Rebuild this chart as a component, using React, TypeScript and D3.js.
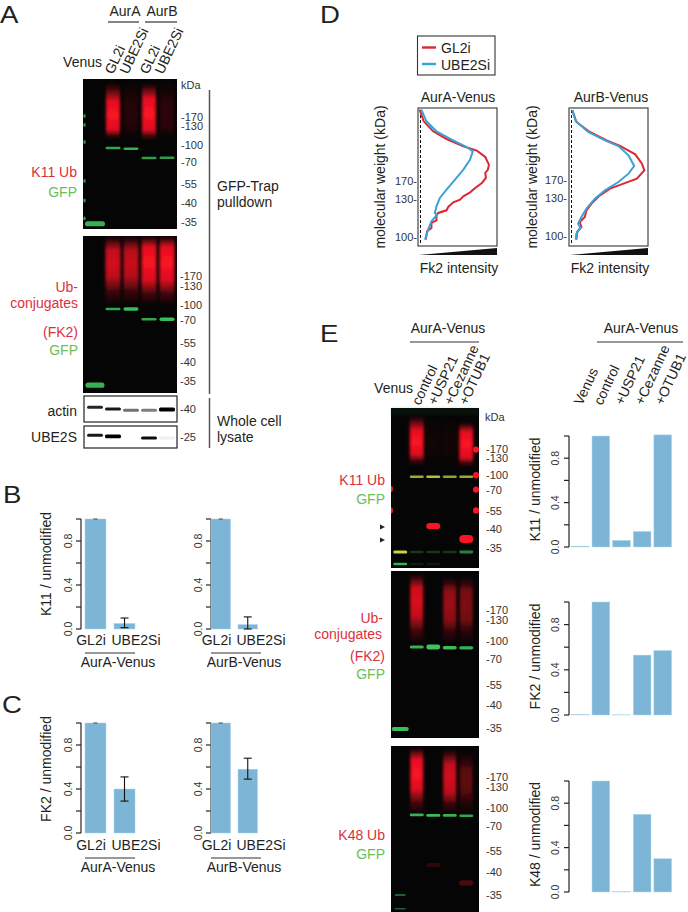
import React from "react";
import * as d3 from "d3";

// ---------- data ----------
const kdaLabels = ["-170", "-130", "-100", "-70", "-55", "-40", "-35"];
const sgLabels = ["GL2i", "UBE2Si"];
const dubLabels = ["control", "+USP21", "+Cezanne", "+OTUB1"];
const dubBarLabels = ["Venus", "control", "+USP21", "+Cezanne", "+OTUB1"];

const k11AurA = [1, 0.05]; const k11AurAErr = [0.012, 0.1];
const k11AurB = [1, 0.04]; const k11AurBErr = [0.0, 0.11];
const fk2AurA = [1, 0.4]; const fk2AurAErr = [0.29, 0.51];
const fk2AurB = [1, 0.58]; const fk2AurBErr = [0.49, 0.68];

const k11Dub = [0.008, 1, 0.06, 0.14, 1.01];
const fk2Dub = [0.005, 1, 0.002, 0.53, 0.57];
const k48Dub = [0, 1, 0.003, 0.7, 0.3];

type P = [number, number];
const aRed: P[] = [[5,5],[17,40],[45,70],[85,93],[135,115],[175,128],[200,147],[211,170],[208,185],[200,195],[202,210],[190,225],[170,240],[155,253],[135,265],[125,275],[105,283],[90,297],[85,307],[60,315],[55,322],[55,337],[40,345],[40,360],[27,370],[23,395]];
const aBlue: P[] = [[10,5],[25,40],[55,70],[100,95],[145,117],[163,130],[155,155],[135,185],[110,215],[85,245],[65,270],[55,295],[50,315],[57,320],[40,340],[30,365],[21,395]];
const bRed: P[] = [[10,7],[22,42],[62,72],[112,97],[152,114],[197,139],[217,167],[224,187],[202,212],[162,227],[122,242],[92,262],[67,287],[52,307],[47,327],[32,342],[37,357],[24,372],[22,395]];
const bBlue: P[] = [[10,7],[20,39],[57,72],[107,97],[147,114],[177,142],[194,174],[177,197],[147,222],[107,247],[77,272],[52,302],[37,327],[27,347],[34,359],[22,377],[20,395]];

// blot marks: lane index, migration (% of gel height), strength, thickness factor
type Band = [number, number, number, number?];
// smear: lane, top, peak start, peak end, bottom, strength
type Smear = [number, number, number, number, number, number];

const a1Green: Band[] = [[1,46,.8],[2,46.5,.85],[3,52.7,.75],[4,52.5,.75],[0,96.5,.85,2]];
const a1Smear: Smear[] = [[1,3,15,34,40,1],[2,3,15,32,40,.14],[3,3,13,34,41,1],[4,3,15,32,40,.17]];
const a1Ladder = [24.7,30.7,42,68,81,93];
const a2Green: Band[] = [[1,46.5,.8],[2,46.5,.9,1.3],[3,53,.8],[4,53,.9,1.3],[0,95,.85,2]];
const a2Smear: Smear[] = [[1,0,9,26,44,.85],[2,0,9,26,44,.8],[3,0,7,28,44,1],[4,0,7,28,44,1]];
const actinBands: Band[] = [[0,43,.85],[1,50,.9],[2,55,.55],[3,55,.5],[4,52,1,1.3]];
const ube2sBands: Band[] = [[0,42,.9],[1,47,1,1.2],[3,55,.95],[4,55,.06]];

const e1Yellow: Band[] = [[1,43,.8],[2,43,.9],[3,43,.75],[4,43,.8],[0,90,1,1.3]];
const e1Green: Band[] = [[0,97.5,.85,1.1],[1,90,.25],[2,90,.25],[3,90,.25],[4,90,.6,1.2],[1,97.5,.12],[2,97.5,.1]];
const e1RedBands: Band[] = [[2,73.75,1,2.6],[4,81.9,1,3.4]];
const e1Smear: Smear[] = [[1,5,14,29,36,1],[2,8,16,28,36,.05],[3,8,16,28,36,.06],[4,9,15,31,37,1]];
const e1RedLadder = [26,42,51,64];
const e1RedLadderLeft = [50.6,64];
const e2Green: Band[] = [[1,45.5,.85,1.3],[2,45.5,.95,2],[3,46,.9,1.5],[4,46,.85,1.3],[0,94.6,.9,1.6]];
const e2Smear: Smear[] = [[1,2,10,27,44,.88],[3,4,12,29,44,.62],[4,4,12,29,44,.5]];
const e3Green: Band[] = [[1,41.5,.85],[2,41.8,.9],[3,41.8,.85],[4,42,.8],[0,89.8,.6,.6],[0,98,.45,.6]];
const e3Smear: Smear[] = [[1,1,8,26,41,1],[3,2,11,28,41,.85],[4,4,14,28,42,.36]];
const e3Faint: Band[] = [[2,71.7,.17,1.6],[4,82.5,.28,2]];

const RED = "#f91222";
const GREEN = "#3fd060";
const YELLOW = "#c4d63c";
const TXT = "#231f20";
const LRED = "#dc2f3c";
const LGREEN = "#6cbe55";
const BAR = "#7cb5d6";
const FONT = "Liberation Sans, Arial, sans-serif";

// ---------- pieces ----------
function Blot({ id, x, y, w, h, lanes, bandW, bandH, lane0W, green = [], yellow = [], redBands = [], smears = [], smearW, ladderGreen = [], ladderRed = [], ladderRedLeft = [], tint }: any) {
  const sx = d3.scaleBand<number>().domain([0, 1, 2, 3, 4]).range(lanes);
  const sy = d3.scaleLinear().domain([0, 100]).range([y, y + h]);
  const cx = (l: number) => (sx(l) as number) + sx.bandwidth() / 2;
  const drawBand = (b: Band, c: string, i: number) => {
    const t = bandH * (b[3] ?? 1);
    const bw = b[0] === 0 && lane0W ? lane0W : bandW;
    return <rect key={c + i} x={cx(b[0]) - bw / 2} y={sy(b[1]) - t / 2} width={bw} height={t} rx={t / 2} fill={c} opacity={b[2]} filter="url(#b06)" />;
  };
  return (
    <g>
      <clipPath id={id}><rect x={x} y={y} width={w} height={h} /></clipPath>
      <rect x={x} y={y} width={w} height={h} fill="#050505" />
      {tint && <rect x={x} y={y} width={w} height={7} fill={tint} opacity={0.16} filter="url(#b15)" />}
      <g clipPath={`url(#${id})`}>
        {smears.map((s: Smear, i: number) => {
          const gid = `${id}-s${i}`;
          const len = s[4] - s[1];
          const a = (s[2] - s[1]) / len;
          const b = (s[3] - s[1]) / len;
          return (
            <g key={i}>
              <linearGradient id={gid} x1="0" x2="0" y1="0" y2="1">
                <stop offset="0" stopColor={RED} stopOpacity={0.03} />
                <stop offset={a * 0.5} stopColor={RED} stopOpacity={s[5] * 0.42} />
                <stop offset={a} stopColor={RED} stopOpacity={s[5] * 0.92} />
                <stop offset={(a + b) / 2} stopColor={RED} stopOpacity={s[5]} />
                <stop offset={b} stopColor={RED} stopOpacity={s[5] * 0.88} />
                <stop offset={b + (1 - b) * 0.5} stopColor={RED} stopOpacity={s[5] * 0.3} />
                <stop offset="1" stopColor={RED} stopOpacity={0} />
              </linearGradient>
              <rect x={cx(s[0]) - smearW / 2} y={sy(s[1])} width={smearW} height={sy(s[4]) - sy(s[1])} fill={`url(#${gid})`} filter="url(#bs)" />
            </g>
          );
        })}
        {green.map((b: Band, i: number) => drawBand(b, GREEN, i))}
        {yellow.map((b: Band, i: number) => drawBand(b, YELLOW, i))}
        {redBands.map((b: Band, i: number) => drawBand(b, RED, i))}
        {ladderGreen.map((v: number, i: number) => <ellipse key={i} cx={x + 1.5} cy={sy(v)} rx={1.2} ry={2} fill={GREEN} opacity={0.7} filter="url(#b06)" />)}
        {ladderRed.map((v: number, i: number) => <ellipse key={i} cx={x + w - 3} cy={sy(v)} rx={3} ry={3.2} fill={RED} filter="url(#b06)" />)}
        {ladderRedLeft.map((v: number, i: number) => <ellipse key={i} cx={x} cy={sy(v)} rx={2} ry={3} fill={RED} filter="url(#b06)" />)}
      </g>
    </g>
  );
}

function GreyBlot({ x, y, w, h, lanes, bands, bandW }: any) {
  const sx = d3.scaleBand<number>().domain([0, 1, 2, 3, 4]).range(lanes);
  const sy = d3.scaleLinear().domain([0, 100]).range([y, y + h]);
  return (
    <g>
      <rect x={x} y={y} width={w} height={h} fill="#fff" stroke="#222" strokeWidth={1.2} />
      {bands.map((b: Band, i: number) => (
        <rect key={i} x={(sx(b[0]) as number) + sx.bandwidth() / 2 - bandW / 2} y={sy(b[1]) - 1.5 * (b[3] ?? 1)} width={bandW} height={3 * (b[3] ?? 1)} rx={1.5} fill="#000" opacity={b[2]} filter="url(#b06)" />
      ))}
    </g>
  );
}

const T = ({ x, y, s = 14, a = "start", c = TXT, children }: any) => (
  <text x={x} y={y} fontSize={s} textAnchor={a} fill={c} fontFamily={FONT}>{children}</text>
);
const RT = ({ x, y, s = 14, a = "middle", deg = -90, c = TXT, children }: any) => (
  <text transform={`translate(${x},${y}) rotate(${deg})`} fontSize={s} textAnchor={a} fill={c} fontFamily={FONT}>{children}</text>
);
const Letter = ({ x, y, children }: any) => (
  <text transform={`translate(${x},${y}) scale(1.15,1)`} fontSize={24} fill={TXT} fontFamily={FONT}>{children}</text>
);

const Markers = ({ x, ys, labels = kdaLabels }: any) => (
  <g>{labels.map((l: string, i: number) => <T key={l} x={x} y={ys[i]} s={11} c="#333">{l}</T>)}</g>
);

function YAxis({ x, top, bottom, tickX }: any) {
  const sy = d3.scaleLinear().domain([0, 1]).range([bottom, top]);
  const ticks = d3.range(0, 6).map((i) => i / 5);
  return (
    <g>
      <line x1={x} x2={x} y1={top} y2={bottom} stroke="#222" strokeWidth={1.2} />
      {ticks.map((t) => <line key={t} x1={x - 5} x2={x} y1={sy(t)} y2={sy(t)} stroke="#222" strokeWidth={1.2} />)}
      {[0, 0.4, 0.8].map((t) => <RT key={t} x={tickX} y={sy(t)} s={10.5} c="#333">{t.toFixed(1)}</RT>)}
    </g>
  );
}

function SmallBars({ x, barX, barW, top, bottom, values, err, underline, title, titleX, capH, labelX }: any) {
  const sy = d3.scaleLinear().domain([0, 1]).range([bottom, top]);
  return (
    <g>
      <YAxis x={x} top={top} bottom={bottom} tickX={x - 9} />
      {values.map((v: number, i: number) => (
        <rect key={i} x={barX[i]} width={barW} y={sy(v)} height={sy(0) - sy(v)} fill={BAR} stroke="#a9d2e6" strokeWidth={0.5} />
      ))}
      <line x1={barX[0] + barW / 2 - 2} x2={barX[0] + barW / 2 + 2} y1={top} y2={top} stroke="#222" strokeWidth={0.8} />
      <g stroke="#111" strokeWidth={1.1}>
        <line x1={barX[1] + barW / 2} x2={barX[1] + barW / 2} y1={sy(err[1])} y2={sy(err[0])} />
        <line x1={barX[1] + barW / 2 - 4} x2={barX[1] + barW / 2 + 4} y1={sy(err[1])} y2={sy(err[1])} />
        <line x1={barX[1] + barW / 2 - 4} x2={barX[1] + barW / 2 + 4} y1={sy(err[0])} y2={sy(err[0])} />
      </g>
      <T x={labelX[0]} y={bottom + capH} a="middle">{sgLabels[0]}</T>
      <T x={labelX[1]} y={bottom + capH} a="middle">{sgLabels[1]}</T>
      <line x1={underline[0]} x2={underline[1]} y1={bottom + capH + 8} y2={bottom + capH + 8} stroke="#333" strokeWidth={1.2} />
      <T x={titleX} y={bottom + capH + 22} a="middle">{title}</T>
    </g>
  );
}

function DubBars({ top, bottom, values, label }: any) {
  const sx = d3.scaleBand<number>().domain(d3.range(5)).range([571, 672]).paddingInner(0.14).paddingOuter(0.02);
  const sy = d3.scaleLinear().domain([0, 1]).range([bottom, top]);
  return (
    <g>
      <YAxis x={569} top={top} bottom={bottom} tickX={559} />
      {values.map((v: number, i: number) => (
        <rect key={i} x={sx(i)} width={sx.bandwidth()} y={sy(v)} height={sy(0) - sy(v)} fill={BAR} stroke="#b5d8ea" strokeWidth={0.5} />
      ))}
      <RT x={540} y={(top + bottom) / 2 - 2} s={14}>{label}</RT>
    </g>
  );
}

function Profile({ x, title, titleX, red, blue, tickX, tickYs, dashX, label, labelX }: any) {
  const sx = d3.scaleLinear().domain([0, 235]).range([x, x + 79]);
  const sy = d3.scaleLinear().domain([0, 415]).range([108, 246.3]);
  const line = d3.line<P>().x((d) => sx(d[0])).y((d) => sy(d[1])).curve(d3.curveLinear);
  return (
    <g>
      <T x={titleX} y={102} a="middle">{title}</T>
      <rect x={x} y={108} width={79} height={138} fill="#fff" stroke="#333" strokeWidth={1.1} />
      <line x1={dashX} x2={dashX} y1={110} y2={245} stroke="#111" strokeWidth={1} strokeDasharray="3 2" />
      <path d={line(red) as string} fill="none" stroke="#dc2832" strokeWidth={2} />
      <path d={line(blue) as string} fill="none" stroke="#3ba2d6" strokeWidth={2} />
      {["170-", "130-", "100-"].map((l, i) => <T key={l} x={tickX} y={tickYs[i] + 4} s={11} a="end" c="#333">{l}</T>)}
      <RT x={labelX} y={177} s={14}>molecular weight (kDa)</RT>
      <path d={`M${x + 1},255 L${x + 79},248 L${x + 79},255 Z`} fill="#111" />
      <T x={x + 41} y={272.5} a="middle">{label}</T>
    </g>
  );
}

export default function App() {
  return (
    <svg width={688} height={912} style={{ position: "absolute", left: 0, top: 0, background: "#fff" }}>
      <defs>
        <filter id="b06" x="-30%" y="-150%" width="160%" height="400%"><feGaussianBlur stdDeviation="0.6" /></filter>
        <filter id="b15" x="-30%" y="-30%" width="160%" height="160%"><feGaussianBlur stdDeviation="1.6" /></filter>
        <filter id="bs" x="-40%" y="-20%" width="180%" height="140%"><feGaussianBlur stdDeviation="1.6 1.2" /></filter>
      </defs>

      {/* Panel letters */}
      <Letter x={0} y={23}>A</Letter>
      <Letter x={3} y={503}>B</Letter>
      <Letter x={2} y={713}>C</Letter>
      <Letter x={320} y={23}>D</Letter>
      <Letter x={320} y={342}>E</Letter>

      {/* Panel A */}
      <T x={125} y={16} a="middle">AurA</T>
      <T x={162} y={16} a="middle">AurB</T>
      <line x1={108} x2={139} y1={22} y2={22} stroke="#333" strokeWidth={1.2} />
      <line x1={145} x2={177} y1={22} y2={22} stroke="#333" strokeWidth={1.2} />
      <T x={102} y={67} a="end">Venus</T>
      {[...sgLabels, ...sgLabels].map((l, i) => <RT key={i} x={[113, 128, 148, 163][i]} y={75} deg={-65} a="start">{l}</RT>)}
      <Blot id="a1" x={83} y={79} w={94} h={150} lanes={[86, 176]} bandW={15} lane0W={20} bandH={2.6} green={a1Green} smears={a1Smear} smearW={14} ladderGreen={a1Ladder} />
      <Blot id="a2" x={83} y={236} w={94} h={157} lanes={[86, 176]} bandW={15} lane0W={19} bandH={2.6} green={a2Green} smears={a2Smear} smearW={15} />
      <GreyBlot x={84} y={396} w={93} h={26} lanes={[86, 176]} bands={actinBands} bandW={16} />
      <GreyBlot x={84} y={426} w={93} h={22} lanes={[86, 176]} bands={ube2sBands} bandW={16} />
      <T x={181} y={89} s={11} c="#333">kDa</T>
      <Markers x={181} ys={[121, 130, 149, 166, 188, 207, 226]} />
      <Markers x={180} ys={[280, 290, 309, 324, 347, 366, 385]} />
      <T x={180} y={413} s={11} c="#333">-40</T>
      <T x={180} y={441} s={11} c="#333">-25</T>
      <line x1={209.5} x2={209.5} y1={90} y2={394} stroke="#555" strokeWidth={1.5} />
      <line x1={209.5} x2={209.5} y1={398} y2={448} stroke="#555" strokeWidth={1.5} />
      <T x={217} y={191}>GFP-Trap</T>
      <T x={217} y={207}>pulldown</T>
      <T x={217} y={426}>Whole cell</T>
      <T x={217} y={442}>lysate</T>
      <T x={77} y={177} a="end" c={LRED}>K11 Ub</T>
      <T x={77} y={197} a="end" c={LGREEN}>GFP</T>
      <T x={78} y={292} a="end" c={LRED}>Ub-</T>
      <T x={78} y={308} a="end" c={LRED}>conjugates</T>
      <T x={78} y={337} a="end" c={LRED}>(FK2)</T>
      <T x={78} y={355} a="end" c={LGREEN}>GFP</T>
      <T x={77} y={416} a="end">actin</T>
      <T x={77} y={442} a="end">UBE2S</T>

      {/* Panel B */}
      <RT x={51} y={564}>K11 / unmodified</RT>
      <SmallBars x={81} barX={[85, 114]} barW={21} top={519} bottom={629} values={k11AurA} err={k11AurAErr} underline={[85, 135]} title="AurA-Venus" titleX={118} capH={16} labelX={[91, 136]} />
      <SmallBars x={211} barX={[211, 238]} barW={19.5} top={519} bottom={629} values={k11AurB} err={k11AurBErr} underline={[211, 261]} title="AurB-Venus" titleX={244} capH={16} labelX={[216.5, 261]} />

      {/* Panel C */}
      <RT x={51} y={769}>FK2 / unmodified</RT>
      <SmallBars x={81} barX={[85, 114]} barW={21} top={723} bottom={833} values={fk2AurA} err={fk2AurAErr} underline={[85, 135]} title="AurA-Venus" titleX={118} capH={17} labelX={[91, 136]} />
      <SmallBars x={211} barX={[211, 238]} barW={19.5} top={723} bottom={833} values={fk2AurB} err={fk2AurBErr} underline={[211, 261]} title="AurB-Venus" titleX={244} capH={17} labelX={[216.5, 261]} />

      {/* Panel D */}
      <rect x={417.5} y={36} width={77.5} height={39} fill="#fff" stroke="#333" strokeWidth={1.1} />
      <line x1={422} x2={436} y1={47.5} y2={47.5} stroke="#dc2832" strokeWidth={2.4} />
      <line x1={422} x2={436} y1={64} y2={64} stroke="#3ba2d6" strokeWidth={2.4} />
      <T x={441} y={53}>GL2i</T>
      <T x={441} y={70}>UBE2Si</T>
      <Profile x={418} title="AurA-Venus" titleX={458} red={aRed} blue={aBlue} tickX={417} tickYs={[181, 199, 237]} dashX={420.5} label="Fk2 intensity" labelX={385} />
      <Profile x={569} title="AurB-Venus" titleX={611} red={bRed} blue={bBlue} tickX={567} tickYs={[180, 198, 236]} dashX={571.5} label="Fk2 intensity" labelX={537} />

      {/* Panel E blots */}
      <T x={448} y={333} a="middle">AurA-Venus</T>
      <line x1={410} x2={479} y1={342} y2={342} stroke="#333" strokeWidth={1.2} />
      <T x={641} y={333} a="middle">AurA-Venus</T>
      <line x1={597} x2={683} y1={342} y2={342} stroke="#333" strokeWidth={1.2} />
      <T x={413} y={393} a="end">Venus</T>
      {dubLabels.map((l, i) => <RT key={l} x={[420, 436, 452, 467][i]} y={406} deg={-65} a="start">{l}</RT>)}
      {dubBarLabels.map((l, i) => <RT key={l} x={[582, 602, 623, 643, 663][i]} y={406} deg={-65} a="start">{l}</RT>)}

      <Blot id="e1" x={391} y={408} w={88} h={160} lanes={[392, 474.5]} bandW={14} bandH={2.4} green={e1Green} yellow={e1Yellow} redBands={e1RedBands} smears={e1Smear} smearW={14} ladderRed={e1RedLadder} ladderRedLeft={e1RedLadderLeft} tint="#1d5a2a" />
      <Blot id="e2" x={391} y={571} w={88} h={167} lanes={[392, 474.5]} bandW={14} lane0W={17} bandH={2.4} green={e2Green} smears={e2Smear} smearW={13} />
      <Blot id="e3" x={391} y={746} w={88} h={166} lanes={[392, 474.5]} bandW={14} lane0W={11} bandH={2.6} green={e3Green} redBands={e3Faint} smears={e3Smear} smearW={13} />
      {[527, 540].map((y) => <path key={y} d={`M380,${y - 2.5} L385,${y} L380,${y + 2.5} Z`} fill="#222" />)}
      <T x={485} y={421} s={11} c="#333">kDa</T>
      <Markers x={486} ys={[453, 462, 479, 494, 515, 533, 552]} />
      <Markers x={486} ys={[614, 624, 645, 663, 689, 709, 732]} />
      <Markers x={486} ys={[781, 791, 812, 830, 855, 876, 899]} />
      <T x={385} y={485} a="end" c={LRED}>K11 Ub</T>
      <T x={385} y={504} a="end" c={LGREEN}>GFP</T>
      <T x={383} y={623} a="end" c={LRED}>Ub-</T>
      <T x={382} y={639} a="end" c={LRED}>conjugates</T>
      <T x={385} y={661} a="end" c={LRED}>(FK2)</T>
      <T x={385} y={679} a="end" c={LGREEN}>GFP</T>
      <T x={385} y={840} a="end" c={LRED}>K48 Ub</T>
      <T x={385} y={859} a="end" c={LGREEN}>GFP</T>

      {/* Panel E bars */}
      <DubBars top={436} bottom={547} values={k11Dub} label="K11 / unmodified" />
      <DubBars top={602} bottom={715} values={fk2Dub} label="FK2 / unmodified" />
      <DubBars top={781} bottom={892} values={k48Dub} label="K48 / unmodified" />
    </svg>
  );
}
